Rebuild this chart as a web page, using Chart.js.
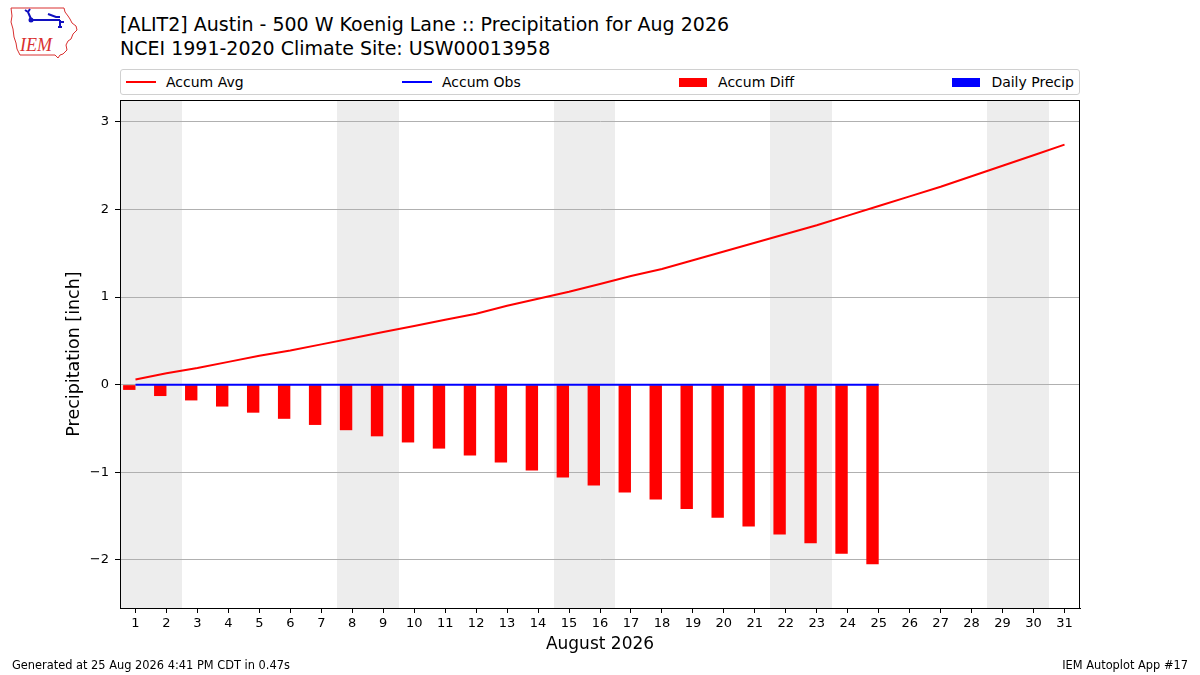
<!DOCTYPE html>
<html>
<head>
<meta charset="utf-8">
<script src="https://cdn.jsdelivr.net/npm/chart.js@4"></script>
<style>
  html, body { margin:0; padding:0; background:#fff; }
  body { width:1200px; height:675px; position:relative; overflow:hidden; font-family:"DejaVu Sans", sans-serif; color:#000; }
  #c { position:absolute; left:0; top:0; }
  .title { position:absolute; left:120px; font-size:19px; line-height:24px; white-space:nowrap; }
  #legend { position:absolute; left:120px; top:69px; border:1px solid #d0d0d0; border-radius:3px;
            display:flex; justify-content:space-between; align-items:center; padding:0 5px; box-sizing:border-box; width:960px; height:26px; background:#fff; }
  .li { display:flex; align-items:center; font-size:14px; white-space:nowrap; }
  .hl { width:30px; height:2px; margin-right:10px; }
  .hb { width:28px; height:9px; margin-right:11px; }
  .foot { position:absolute; top:658px; font-size:11.4px; white-space:nowrap; }
</style>
</head>
<body>
<svg style="position:absolute;left:8px;top:5px" width="72" height="54" viewBox="0 0 72 54">
  <path d="M3,3 L56,3 L57,7 L60,11 L62,14 L64,18 L68,21 L69,25 L65,29 L63,34 L60,36 L58,40 L59,45 L55,49 L52,50 L50,53 L47,50 L12,50 L9,44 L8,38 L6,32 L5,24 L3,17 L4,11 Z" fill="none" stroke="#d93030" stroke-width="1"/>
  <path d="M23,14 L20,7 M20,7 L17,5 M20,7 L22,4 M23,15 L52,15 M40,9 L48,12 L52,12 M52,15 L52,22 M50,22 L54,22 M52,17 L56,17" fill="none" stroke="#1010c0" stroke-width="2"/>
  <circle cx="23" cy="15" r="2.5" fill="#1010c0"/>
  <text x="12" y="46" font-family="Liberation Serif, serif" font-style="italic" font-size="18" fill="#d93030">IEM</text>
</svg>
<div class="title" style="top:12px">[ALIT2] Austin - 500 W Koenig Lane :: Precipitation for Aug 2026</div>
<div class="title" style="top:36px">NCEI 1991-2020 Climate Site: USW00013958</div>
<canvas id="c" width="1200" height="675"></canvas>
<div id="legend">
  <div class="li"><span class="hl" style="background:#ff0000"></span>Accum Avg</div>
  <div class="li"><span class="hl" style="background:#0000ff"></span>Accum Obs</div>
  <div class="li"><span class="hb" style="background:#ff0000"></span>Accum Diff</div>
  <div class="li"><span class="hb" style="background:#0000ff"></span>Daily Precip</div>
</div>
<div class="foot" style="left:12px">Generated at 25 Aug 2026 4:41 PM CDT in 0.47s</div>
<div class="foot" style="right:12px">IEM Autoplot App #17</div>
<script>
const days = [1,2,3,4,5,6,7,8,9,10,11,12,13,14,15,16,17,18,19,20,21,22,23,24,25,26,27,28,29,30,31];
const accumAvg = [0.06,0.13,0.19,0.26,0.33,0.39,0.46,0.53,0.60,0.67,0.74,0.81,0.90,0.98,1.06,1.15,1.24,1.32,1.42,1.52,1.62,1.72,1.82,1.93,2.04,2.15,2.26,2.38,2.50,2.62,2.74];
const obsDays = [1,2,3,4,5,6,7,8,9,10,11,12,13,14,15,16,17,18,19,20,21,22,23,24,25];
const accumObs = [0,0,0,0,0,0,0,0,0,0,0,0,0,0,0,0,0,0,0,0,0,0,0,0,0];
const dailyPrecip = [0,0,0,0,0,0,0,0,0,0,0,0,0,0,0,0,0,0,0,0,0,0,0,0,0];
const accumDiff = [-0.06,-0.13,-0.18,-0.25,-0.32,-0.39,-0.46,-0.52,-0.59,-0.66,-0.73,-0.81,-0.89,-0.98,-1.06,-1.15,-1.23,-1.31,-1.42,-1.52,-1.62,-1.71,-1.81,-1.93,-2.05];
const weekendDays = [1,2,8,9,15,16,22,23,29,30];
const xTicks = days;
const yTicks = [-2,-1,0,1,2,3];

const pts = (xs, ys, dx) => ys.map((v,i) => ({x: xs[i] + (dx||0), y: v}));

const shade = {
  id:'shade',
  beforeDraw(chart){
    const {ctx, chartArea:a, scales:{x}} = chart;
    ctx.save();
    ctx.fillStyle = '#ededed';
    weekendDays.forEach(d => {
      const l = Math.round(x.getPixelForValue(d-0.5)), r = Math.round(x.getPixelForValue(d+0.5));
      ctx.fillRect(l, a.top, r-l, a.bottom-a.top);
    });
    ctx.restore();
  },
  afterDraw(chart){
    const {ctx, chartArea:a} = chart;
    ctx.save();
    ctx.strokeStyle = '#000';
    ctx.lineWidth = 1;
    ctx.strokeRect(Math.round(a.left)+0.5, Math.round(a.top)+0.5, Math.round(a.right-a.left)-1, Math.round(a.bottom-a.top));
    ctx.restore();
  }
};

new Chart(document.getElementById('c'), {
  type:'bar',
  data:{
    datasets:[
      {type:'line', label:'Accum Avg', data:pts(days, accumAvg), borderColor:'#ff0000', borderWidth:2, pointRadius:0, order:1},
      {type:'line', label:'Accum Obs', data:pts(obsDays, accumObs), borderColor:'#0000ff', borderWidth:2, pointRadius:0, order:0},
      {type:'bar', label:'Accum Diff', data:pts(obsDays, accumDiff, -0.2), backgroundColor:'#ff0000', borderWidth:0, inflateAmount:0, grouped:false, barPercentage:1, categoryPercentage:1, order:3},
      {type:'bar', label:'Daily Precip', data:pts(obsDays, dailyPrecip, 0.2), backgroundColor:'#0000ff', borderWidth:0, inflateAmount:0, grouped:false, barPercentage:1, categoryPercentage:1, order:2}
    ]
  },
  options:{
    responsive:false, animation:false, devicePixelRatio:1,
    layout:{padding:{left:60, top:100, right:120, bottom:15}},
    plugins:{legend:{display:false}, tooltip:{enabled:false}, title:{display:false}},
    scales:{
      x:{type:'linear', min:0.5, max:31.5, offset:false,
         afterFit(s){ s.height = 52; },
         afterBuildTicks(s){ s.ticks = xTicks.map(v => ({value:v})); },
         ticks:{autoSkip:false, maxRotation:0, minRotation:0, color:'#000', padding:3, font:{family:'DejaVu Sans', size:13}},
         grid:{display:true, drawOnChartArea:false, offset:false, tickLength:5, tickColor:'#000', tickWidth:1},
         border:{color:'#000', width:1},
         title:{display:true, text:'August 2026', color:'#000', font:{family:'DejaVu Sans', size:17}, padding:{top:4, bottom:5}}
      },
      y:{type:'linear', min:-2.55, max:3.25,
         afterFit(s){ s.width = 60; },
         afterBuildTicks(s){ s.ticks = yTicks.map(v => ({value:v})); },
         ticks:{color:'#000', padding:6, font:{family:'DejaVu Sans', size:13},
                callback:v => v < 0 ? '\u2212' + Math.abs(v) : String(v)},
         grid:{color:'#b0b0b0', lineWidth:1, tickLength:5, tickColor:'#000', tickWidth:1},
         border:{color:'#000', width:1},
         title:{display:true, text:'Precipitation [inch]', color:'#000', font:{family:'DejaVu Sans', size:17.5}, padding:{top:4, bottom:4}}
      }
    }
  },
  plugins:[shade]
});
</script>
</body>
</html>
